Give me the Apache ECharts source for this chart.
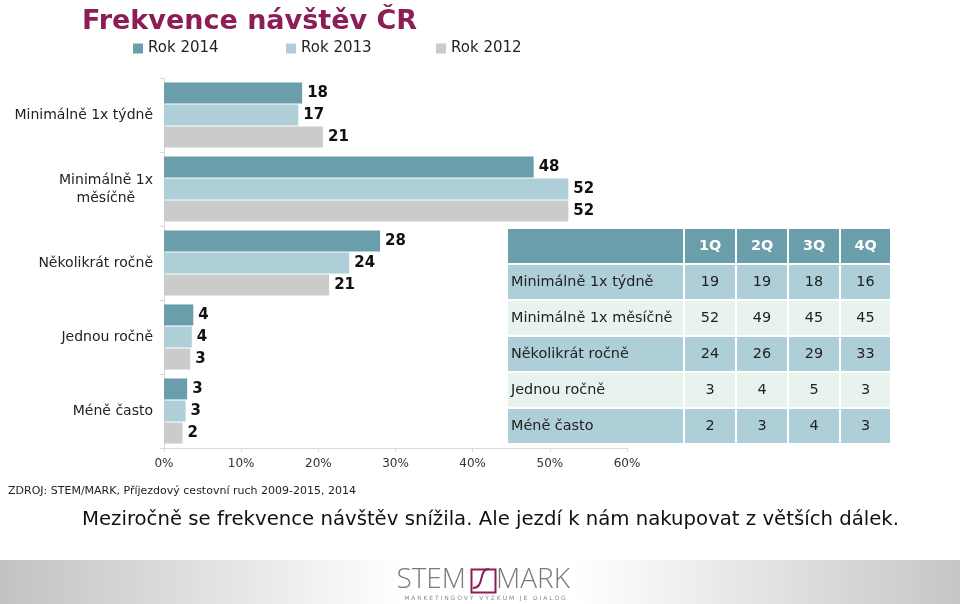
<!DOCTYPE html>
<html><head><meta charset="utf-8">
<script src="https://cdn.jsdelivr.net/npm/echarts@6/dist/echarts.min.js"></script>
<style>html,body{margin:0;padding:0;background:#fff}#c{width:960px;height:604px}</style>
</head><body><div id="c"></div>
<script>
const categories = ['Minimálně 1x týdně', 'Minimálně 1x\nměsíčně    ', 'Několikrát ročně', 'Jednou ročně', 'Méně často'];
const seriesNames = ['Rok 2014', 'Rok 2013', 'Rok 2012'];
const y2014 = [17.9, 47.9, 28.0, 3.8, 3.0];
const y2013 = [17.4, 52.4, 24.0, 3.6, 2.8];
const y2012 = [20.6, 52.4, 21.4, 3.4, 2.4];
const xTicks = [0, 10, 20, 30, 40, 50, 60];
const tableHeader = ['', '1Q', '2Q', '3Q', '4Q'];
const tableRows = ['Minimálně 1x týdně', 'Minimálně 1x měsíčně', 'Několikrát ročně', 'Jednou ročně', 'Méně často'];
const q1 = [19, 52, 24, 3, 2];
const q2 = [19, 49, 26, 4, 3];
const q3 = [18, 45, 29, 5, 4];
const q4 = [16, 45, 33, 3, 3];

const colors = ['#6a9eab', '#aecfd8', '#cbcbcb'];
const FONT = 'DejaVu Sans';

const chart = echarts.init(document.getElementById('c'));

// table graphics built from arrays
const colX = [508, 685, 737, 789, 841];
const colW = [175, 50, 50, 50, 49];
const rowH = 34, rowGap = 2, tTop = 229;
const rowColors = ['#afcfd8', '#e8f3ee'];
const qCols = [q1, q2, q3, q4];
const graphics = [];
for (let r = 0; r <= tableRows.length; r++) {
  const y = tTop + r * (rowH + rowGap);
  for (let c = 0; c < 5; c++) {
    let fill;
    if (r === 0) fill = '#6a9eab';
    else fill = rowColors[(r - 1) % 2];
    graphics.push({type: 'rect', left: colX[c], top: y, shape: {width: colW[c], height: rowH}, style: {fill: fill}, silent: true});
    let txt;
    if (r === 0) txt = tableHeader[c];
    else txt = c === 0 ? tableRows[r - 1] : String(qCols[c - 1][r - 1]);
    if (!txt) continue;
    graphics.push({
      type: 'text',
      x: c === 0 ? colX[c] + 3 : colX[c] + colW[c] / 2,
      y: y + rowH / 2,
      style: {
        text: txt,
        fill: r === 0 ? '#ffffff' : '#222',
        font: (r === 0 ? 'bold ' : '') + '14.4px "' + FONT + '"',
        textAlign: c === 0 ? 'left' : 'center',
        textVerticalAlign: 'middle'
      },
      silent: true
    });
  }
}
// bottom band + logo
graphics.push({type: 'rect', left: 0, top: 560, shape: {width: 960, height: 44}, silent: true,
  style: {fill: new echarts.graphic.LinearGradient(0, 0, 1, 0, [
    {offset: 0, color: '#c2c2c2'}, {offset: 0.42, color: '#ffffff'}, {offset: 0.6, color: '#ffffff'}, {offset: 1, color: '#c6c6c6'}])}});
graphics.push({type: 'text', x: 466, y: 580, silent: true, style: {text: 'STEM', fill: '#7a7a7a', font: '300 28px "Open Sans"', textAlign: 'right', textVerticalAlign: 'middle'}});
graphics.push({type: 'rect', left: 469, top: 567, shape: {width: 24, height: 23}, silent: true, style: {fill: 'none', stroke: '#8c1d55', lineWidth: 2}});
graphics.push({type: 'bezierCurve', silent: true, shape: {x1: 473, y1: 588, x2: 489, y2: 569, cpx1: 485, cpy1: 588, cpx2: 478, cpy2: 569}, style: {stroke: '#8c1d55', lineWidth: 2, fill: 'none'}});
graphics.push({type: 'text', x: 496, y: 580, silent: true, style: {text: 'MARK', fill: '#7a7a7a', font: '300 28px "Open Sans"', textAlign: 'left', textVerticalAlign: 'middle'}});
graphics.push({type: 'text', x: 485, y: 598, silent: true, style: {text: 'M A R K E T I N G O V Ý   V Ý Z K U M   J E   D I A L O G', fill: '#8a8a8a', font: '6px "' + FONT + '"', textAlign: 'center', textVerticalAlign: 'middle'}});

const option = {
  backgroundColor: '#ffffff',
  animation: false,
  color: colors,
  title: {
    text: 'Frekvence návštěv ČR', left: 77, top: 3,
    textStyle: {color: '#8c1d55', fontFamily: FONT, fontWeight: 'bold', fontSize: 27}
  },
  legend: seriesNames.map((n, i) => ({
    data: [n], left: [128, 281, 431][i], top: 36, itemWidth: 10, itemHeight: 10, icon: 'rect', itemGap: 4,
    textStyle: {fontFamily: FONT, fontSize: 15, color: '#222'}
  })),
  grid: {left: 164, top: 78, width: 463, height: 370, containLabel: false},
  xAxis: {
    type: 'value', min: 0, max: 60, interval: 10,
    axisLine: {show: true, lineStyle: {color: '#d9d9d9'}},
    axisTick: {show: true, length: 4, lineStyle: {color: '#d9d9d9'}},
    splitLine: {show: false},
    axisLabel: {formatter: v => xTicks.includes(v) ? v + '%' : '', fontFamily: FONT, fontSize: 12, color: '#333', margin: 10}
  },
  yAxis: {
    type: 'category', data: categories, inverse: true,
    axisLine: {show: true, lineStyle: {color: '#d9d9d9'}},
    axisTick: {show: true, length: 4, lineStyle: {color: '#d9d9d9'}},
    axisLabel: {fontFamily: FONT, fontSize: 14, color: '#222', margin: 11, lineHeight: 18}
  },
  series: [y2014, y2013, y2012].map((d, i) => ({
    name: seriesNames[i], type: 'bar', data: d, barWidth: 21, barGap: '5%',
    label: {show: true, position: 'right', distance: 5, formatter: p => Math.round(p.value),
      fontFamily: FONT, fontWeight: 'bold', fontSize: 15, color: '#111'}
  })),
  graphic: graphics.concat([
    {type: 'text', left: 8, top: 486, silent: true, style: {text: 'ZDROJ: STEM/MARK, Příjezdový cestovní ruch 2009-2015, 2014', fill: '#222', font: '11px "' + FONT + '"'}},
    {type: 'text', left: 82, top: 510, silent: true, style: {text: 'Meziročně se frekvence návštěv snížila. Ale jezdí k nám nakupovat z větších dálek.', fill: '#111', font: '19.7px "' + FONT + '"'}}
  ])
};
chart.setOption(option);
</script></body></html>
